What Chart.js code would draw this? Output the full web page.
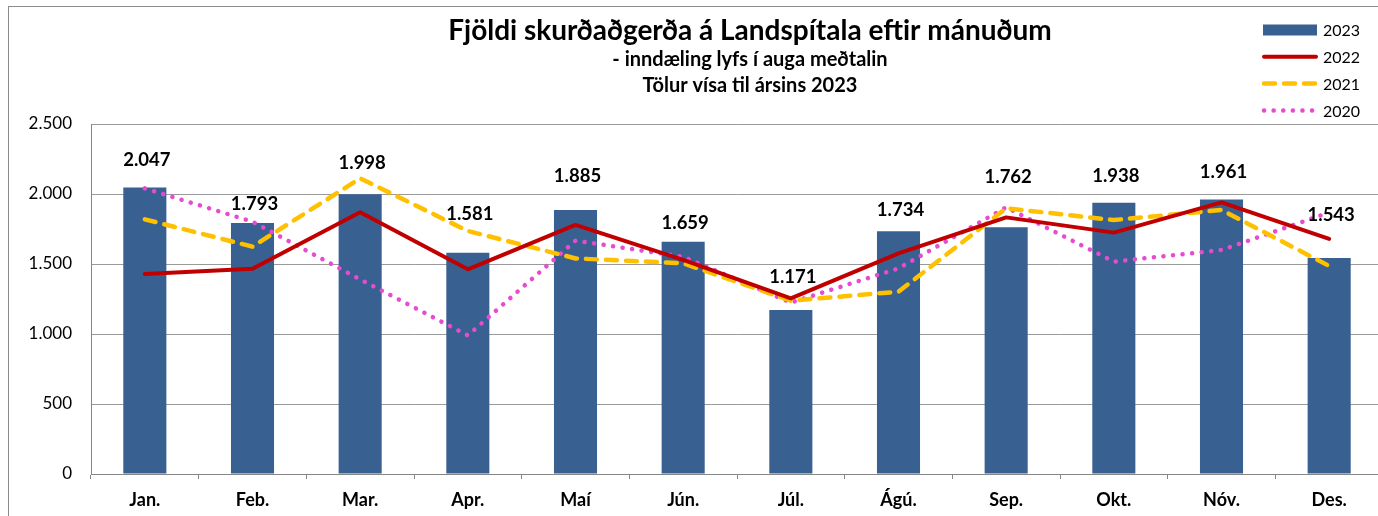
<!DOCTYPE html>
<html>
<head>
<meta charset="utf-8">
<script src="https://cdn.jsdelivr.net/npm/chart.js@4"></script>
<style>
  html, body { margin: 0; padding: 0; background: #fff; overflow: hidden; }
  #wrap { width: 1378px; height: 516px; overflow: hidden; position: relative; }
  canvas { display: block; }
</style>
</head>
<body>
<div id="wrap"><canvas id="c" width="1400" height="530"></canvas></div>
<script>
// ---- data ----
const months = ['Jan.', 'Feb.', 'Mar.', 'Apr.', 'Maí', 'Jún.', 'Júl.', 'Ágú.', 'Sep.', 'Okt.', 'Nóv.', 'Des.'];
const values2023 = [2047, 1793, 1998, 1581, 1885, 1659, 1171, 1734, 1762, 1938, 1961, 1543];
const values2022 = [1428, 1466, 1869, 1462, 1779, 1530, 1255, 1576, 1833, 1724, 1940, 1679];
const values2021 = [1819, 1624, 2112, 1736, 1540, 1505, 1238, 1302, 1898, 1814, 1886, 1486];
const values2020 = [2040, 1802, 1390, 990, 1667, 1552, 1224, 1469, 1905, 1517, 1600, 1868];
const yTicks = [0, 500, 1000, 1500, 2000, 2500];
const seriesNames = ['2023', '2022', '2021', '2020'];
const titleText = 'Fjöldi skurðaðgerða á Landspítala eftir mánuðum';
const subtitle1 = '- inndæling lyfs í auga meðtalin';
const subtitle2 = 'Tölur vísa til ársins 2023';

const FONT = 'Lato, "Open Sans", "Liberation Sans", sans-serif';
const fmt = n => String(n).replace(/\B(?=(\d{3})+(?!\d))/g, '.');

// label lift above bar tops (pixels), as placed in the original chart
const labelLift = [27, 19, 31, 39, 34, 19, 33, 21, 50, 27, 27, 43];

const framePlugin = {
  id: 'frame',
  beforeDraw(chart) {
    const ctx = chart.ctx;
    ctx.save();
    ctx.fillStyle = '#fff';
    ctx.fillRect(0, 0, chart.width, chart.height);
    ctx.strokeStyle = '#8c8c8c';
    ctx.lineWidth = 1;
    ctx.strokeRect(8.5, 6.5, chart.width + 20, chart.height + 20);
    ctx.restore();
  }
};

const titlePlugin = {
  id: 'titles',
  afterDraw(chart) {
    const ctx = chart.ctx;
    ctx.save();
    ctx.fillStyle = '#000';
    ctx.textAlign = 'center';
    ctx.textBaseline = 'middle';
    ctx.font = 'bold 28px ' + FONT;
    ctx.fillText(titleText, 750, 31);
    ctx.font = 'bold 20px ' + FONT;
    ctx.fillText(subtitle1, 750, 60);
    ctx.fillText(subtitle2, 750, 86);
    ctx.restore();
  }
};

const labelPlugin = {
  id: 'barLabels',
  afterDatasetsDraw(chart) {
    const ctx = chart.ctx;
    const meta = chart.getDatasetMeta(0);
    ctx.save();
    ctx.fillStyle = '#000';
    ctx.textAlign = 'center';
    ctx.textBaseline = 'middle';
    ctx.font = 'bold 18.5px ' + FONT;
    meta.data.forEach((bar, i) => {
      ctx.fillText(fmt(values2023[i]), bar.x + 2, bar.y - labelLift[i]);
    });
    ctx.restore();
  }
};

const legendPlugin = {
  id: 'customLegend',
  afterDraw(chart) {
    const ctx = chart.ctx;
    ctx.save();
    ctx.font = '16px ' + FONT;
    ctx.textBaseline = 'middle';
    ctx.textAlign = 'left';
    const x0 = 1262, x1 = 1317, tx = 1323;
    chart.data.datasets.forEach((ds, i) => {
      const y = 30 + i * 26.8;
      if (ds.type === 'bar') {
        ctx.fillStyle = ds.backgroundColor;
        ctx.fillRect(x0 + 1, y - 5.5, x1 - x0 - 1, 11);
      } else {
        ctx.strokeStyle = ds.borderColor;
        ctx.lineWidth = ds.borderWidth;
        ctx.lineCap = ds.borderCapStyle || 'butt';
        ctx.setLineDash(ds.borderDash || []);
        ctx.beginPath();
        ctx.moveTo(x0 + 2, y);
        ctx.lineTo(x1 - 1, y);
        ctx.stroke();
        ctx.setLineDash([]);
      }
      ctx.fillStyle = '#000';
      ctx.fillText(ds.label, tx, y + 1);
    });
    ctx.restore();
  }
};

new Chart(document.getElementById('c'), {
  data: {
    labels: months,
    datasets: [
      { type: 'bar', label: seriesNames[0], data: values2023, backgroundColor: '#386192',
        barPercentage: 0.4, categoryPercentage: 1, order: 4 },
      { type: 'line', label: seriesNames[1], data: values2022, borderColor: '#C00000', borderWidth: 4,
        pointRadius: 0, tension: 0, fill: false, order: 1, borderCapStyle: 'round', borderJoinStyle: 'round' },
      { type: 'line', label: seriesNames[2], data: values2021, borderColor: '#FFC000', borderWidth: 4.5,
        borderDash: [11, 9], borderCapStyle: 'round', pointRadius: 0, tension: 0, fill: false, order: 2 },
      { type: 'line', label: seriesNames[3], data: values2020, borderColor: '#E64BD0', borderWidth: 4.5,
        borderDash: [0.1, 9.5], borderCapStyle: 'round', pointRadius: 0, tension: 0, fill: false, order: 3 }
    ]
  },
  options: {
    responsive: false,
    animation: false,
    devicePixelRatio: 1,
    layout: { padding: { left: 0, top: 124, right: 17, bottom: 0 } },
    plugins: { legend: { display: false }, title: { display: false }, tooltip: { enabled: false } },
    scales: {
      x: {
        offset: true,
        grid: { offset: true, drawOnChartArea: false, drawTicks: true, tickLength: 5, color: '#868686' },
        border: { color: '#868686', width: 1 },
        ticks: { color: '#000', font: { family: FONT, size: 18, weight: 'bold' }, padding: 10, maxRotation: 0 },
        afterFit: s => { s.height = 56; }
      },
      y: {
        min: 0, max: 2500,
        afterBuildTicks: s => { s.ticks = yTicks.map(v => ({ value: v })); },
        grid: { color: '#9a9a9a', drawTicks: false },
        border: { color: '#868686', width: 1 },
        ticks: { color: '#000', font: { family: FONT, size: 17 }, padding: 19, callback: v => fmt(v) },
        afterFit: s => { s.width = 91; }
      }
    }
  },
  plugins: [framePlugin, titlePlugin, labelPlugin, legendPlugin]
});
</script>
</body>
</html>
